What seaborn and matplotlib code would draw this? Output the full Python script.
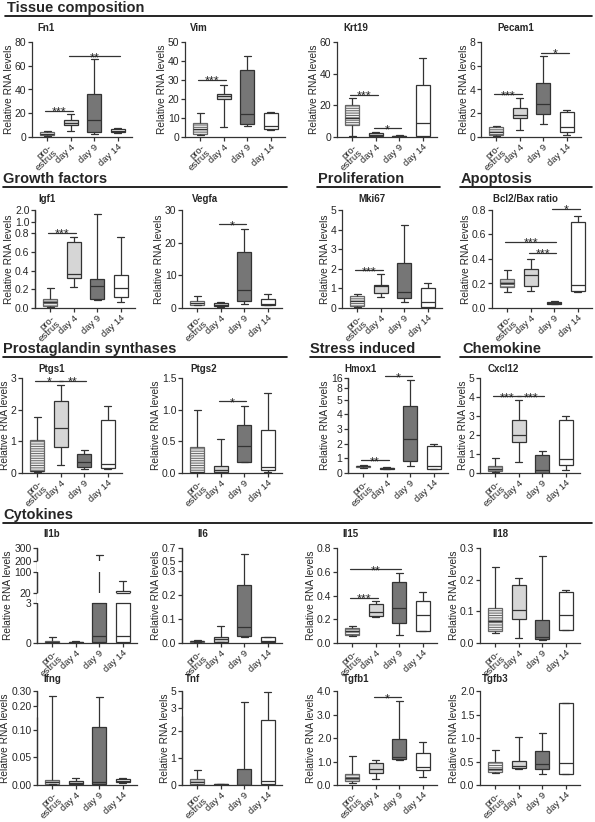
import numpy as np
import pandas as pd
import seaborn as sns
import matplotlib
matplotlib.use('Agg')
import matplotlib.pyplot as plt
from matplotlib.lines import Line2D

# === Data: five-number summaries [min, q1, median, q3, max] ===
GROUPS = ['pro-\nestrus', 'day 4', 'day 9', 'day 14']

FN1 = [[0.5, 1.5, 2.5, 4.0, 5.0], [5.0, 10.0, 12.0, 14.5, 19.0], [2.5, 4.0, 14.0, 36.0, 65.5], [3.0, 4.0, 5.0, 7.0, 7.5]]
VIM = [[1.0, 1.5, 4.0, 7.5, 12.5], [5.0, 20.2, 21.5, 22.8, 27.5], [6.0, 7.0, 12.0, 35.0, 42.5], [3.5, 4.0, 6.0, 12.5, 13.0]]
KRT19 = [[0.5, 7.5, 12.0, 20.5, 24.5], [0.2, 0.5, 1.0, 2.8, 3.2], [0.1, 0.2, 0.4, 0.6, 1.0], [0.3, 0.5, 9.0, 33.0, 50.0]]
PECAM1 = [[0.1, 0.2, 0.45, 0.8, 0.95], [0.55, 1.6, 1.82, 2.47, 3.3], [1.12, 1.97, 2.75, 4.58, 6.8], [0.2, 0.45, 0.8, 2.1, 2.3]]
IGF1 = [[0.01, 0.02, 0.06, 0.1, 0.21], [0.22, 0.32, 0.36, 0.7, 0.76], [0.09, 0.1, 0.235, 0.31, 1.65], [0.065, 0.115, 0.21, 0.35, 0.755]]
VEGFA = [[0.8, 1.0, 1.5, 2.1, 3.6], [0.3, 0.6, 1.0, 1.5, 1.8], [1.3, 2.0, 5.6, 17.0, 24.3], [0.8, 1.0, 1.3, 2.8, 4.3]]
MKI67 = [[0.05, 0.1, 0.35, 0.6, 0.7], [0.54, 0.78, 1.13, 1.18, 1.74], [0.31, 0.52, 0.8, 2.3, 4.25], [0.02, 0.05, 0.31, 1.04, 1.25]]
BCL2BAX = [[0.133, 0.175, 0.2, 0.24, 0.31], [0.14, 0.18, 0.27, 0.32, 0.4], [0.03, 0.035, 0.04, 0.05, 0.055], [0.13, 0.14, 0.19, 0.7, 0.755]]
PTGS1 = [[0.04, 0.05, 0.07, 1.05, 1.76], [0.24, 0.83, 1.43, 2.28, 2.78], [0.13, 0.18, 0.35, 0.59, 0.72], [0.12, 0.17, 0.29, 1.66, 2.1]]
PTGS2 = [[0.0, 0.005, 0.01, 0.41, 0.99], [0.0, 0.02, 0.05, 0.105, 0.53], [0.17, 0.17, 0.42, 0.76, 1.06], [0.01, 0.04, 0.09, 0.68, 1.27]]
HMOX1 = [[0.33, 0.4, 0.45, 0.5, 0.55], [0.27, 0.3, 0.33, 0.36, 0.38], [0.5, 0.84, 2.32, 4.55, 14.0], [0.25, 0.27, 0.5, 1.86, 1.98]]
CXCL12 = [[0.05, 0.1, 0.2, 0.35, 0.79], [0.6, 1.61, 2.0, 2.77, 3.82], [0.0, 0.02, 0.14, 0.95, 1.16], [0.18, 0.42, 0.74, 2.8, 3.02]]
IL1B = [[0.01, 0.03, 0.08, 0.12, 0.42], [0.02, 0.03, 0.06, 0.1, 0.12], [0.03, 0.05, 0.55, 12.0, 245.0], [0.02, 0.05, 0.5, 28.0, 65.0]]
IL6 = [[0.003, 0.005, 0.008, 0.01, 0.012], [0.003, 0.005, 0.018, 0.027, 0.071], [0.025, 0.031, 0.068, 0.244, 0.615], [0.003, 0.005, 0.01, 0.027, 0.027]]
IL15 = [[0.055, 0.066, 0.097, 0.13, 0.14], [0.22, 0.23, 0.26, 0.33, 0.35], [0.066, 0.17, 0.295, 0.51, 0.593], [0.1, 0.1, 0.24, 0.35, 0.43]]
IL18 = [[0.032, 0.038, 0.07, 0.11, 0.24], [0.017, 0.077, 0.105, 0.182, 0.205], [0.008, 0.012, 0.02, 0.072, 0.274], [0.04, 0.04, 0.088, 0.161, 0.167]]
IFNG = [[0.001, 0.002, 0.005, 0.009, 0.27], [0.001, 0.002, 0.004, 0.007, 0.013], [0.0, 0.001, 0.006, 0.104, 0.26], [0.003, 0.005, 0.008, 0.011, 0.012]]
TNF = [[0.01, 0.03, 0.12, 0.215, 0.55], [0.0, 0.01, 0.02, 0.04, 0.05], [0.0, 0.005, 0.01, 0.575, 3.7], [0.0, 0.02, 0.155, 2.4, 4.85]]
TGFB1 = [[0.1, 0.15, 0.29, 0.46, 1.22], [0.25, 0.5, 0.68, 0.95, 1.07], [1.05, 1.09, 1.19, 1.97, 3.58], [0.36, 0.62, 0.78, 1.37, 1.81]]
TGFB3 = [[0.26, 0.28, 0.35, 0.48, 0.75], [0.35, 0.36, 0.4, 0.52, 1.02], [0.235, 0.33, 0.44, 0.73, 1.1], [0.24, 0.24, 0.46, 1.74, 1.75]]

# significance bars: (group a, group b, height, stars)
FN1_SIG = [(0, 1, 22, '***'), (1, 3, 68, '**')]
VIM_SIG = [(0, 1, 30, '***')]
KRT19_SIG = [(0, 1, 26.7, '***'), (1, 2, 5.5, '*')]
PECAM1_SIG = [(0, 1, 3.6, '***'), (2, 3, 7.1, '*')]
IGF1_SIG = [(0, 1, 0.8, '***')]
VEGFA_SIG = [(1, 2, 25.6, '*')]
MKI67_SIG = [(0, 1, 1.93, '***')]
BCL2BAX_SIG = [(0, 2, 0.54, '***'), (1, 2, 0.45, '***'), (2, 3, 0.81, '*')]
PTGS1_SIG = [(0, 1, 2.92, '*'), (1, 2, 2.92, '**')]
PTGS2_SIG = [(1, 2, 1.13, '*')]
HMOX1_SIG = [(0, 1, 0.86, '**'), (1, 2, 17.5, '*')]
CXCL12_SIG = [(0, 1, 4.04, '***'), (1, 2, 4.04, '***')]
IL15_SIG = [(0, 1, 0.38, '***'), (0, 2, 0.62, '**')]
TGFB1_SIG = [(1, 2, 3.74, '*')]

# broken axes: (low, high, share of axis height)
IGF1_SEGS = [(0, 0.8, 0.765), (1.0, 2.0, 0.122)]
HMOX1_SEGS = [(0, 5, 0.772), (8, 16, 0.105)]
IL1B_SEGS = [(0, 3, 0.421), (20, 100, 0.221), (200, 300, 0.140)]
IL6_SEGS = [(0, 0.3, 0.754), (0.5, 0.7, 0.140)]
IFNG_SEGS = [(0, 0.122, 0.72), (0.2, 0.3, 0.16)]
TNF_SEGS = [(0, 2.55, 0.733), (3, 5, 0.186)]

# === Style / layout ===
FILLS = ['#eeeeee', '#d6d6d6', '#767676', '#ffffff']
LINE = '#333333'
W, H = 595, 822
ROW_TOP = [42, 210, 378, 548, 691]
ROW_BOT = [137, 308, 473, 643, 785]
TITLE_BASE = [31, 202, 372, 537, 682]
LEFT = [[32, 185, 337, 481], [35, 182, 342, 492], [22, 182, 348, 480], [37, 182, 337, 480], [37, 182, 337, 480]]
TITLE_X = [[37, 190, 343, 497], [38, 192, 358, 493], [38, 190, 344, 488], [43, 197, 342, 492], [43, 185, 343, 482]]
AX_W = 100
BOX_W = 0.6

sns.set_style('ticks')
plt.rcParams['font.family'] = ['Liberation Sans', 'DejaVu Sans']
plt.rcParams['hatch.linewidth'] = 0.7

fig = plt.figure(figsize=(W / 100, H / 100), dpi=100)


def piecewise(segs):
    d, v = [], []
    pos = 0.0
    gap = (1 - sum(s[2] for s in segs)) / (len(segs) - 1)
    for i, (lo, hi, h) in enumerate(segs):
        if i > 0:
            pos += gap
        d += [lo, hi]
        v += [pos, pos + h]
        pos += h
    s0 = (d[1] - d[0]) / (v[1] - v[0])
    s1 = (d[-1] - d[-2]) / (v[-1] - v[-2])
    d = [d[0] - 10 * s0] + d + [d[-1] + 10 * s1]
    v = [v[0] - 10] + v + [v[-1] + 10]
    d, v = np.array(d), np.array(v)
    return (lambda y: np.interp(y, d, v)), (lambda t: np.interp(t, v, d))


def panel(r, c, title, vals, ticks, fmt='{:g}', sigs=(), segs=None, blank=False):
    left, top, bot = LEFT[r][c], ROW_TOP[r], ROW_BOT[r]
    ax = fig.add_axes([left / W, 1 - bot / H, AX_W / W, (bot - top) / H])
    df = pd.DataFrame({'group': np.repeat(GROUPS, 5), 'value': np.concatenate(vals)})
    sns.boxplot(data=df, x='group', y='value', hue='group', order=GROUPS, hue_order=GROUPS,
                palette=FILLS, saturation=1, whis=(0, 100), width=BOX_W, linewidth=0.9,
                linecolor=LINE, showfliers=False, legend=False, ax=ax)
    # hatched pre-estrus box
    box = ax.patches[0]
    box.set_edgecolor('#666666')
    box.set_hatch('-------')

    if segs is not None:
        ax.set_yscale('function', functions=piecewise(segs))
        ax.set_ylim(segs[0][0], segs[-1][1])
        ax.spines['left'].set_visible(False)
        for lo, hi, _ in segs:
            ax.plot([0, 0], [lo, hi], transform=ax.get_yaxis_transform(), color=LINE,
                    lw=0.9, clip_on=False, solid_capstyle='butt', zorder=5)
        if blank:
            for (_, hi, _), (lo, _, _) in zip(segs[:-1], segs[1:]):
                ax.axhspan(hi, lo, facecolor='white', edgecolor='none', zorder=4)
                # close boxes that are cut by the break
                for i, v in enumerate(vals):
                    if v[1] < hi < v[3]:
                        ax.hlines(hi, i - BOX_W / 2, i + BOX_W / 2, color=LINE, lw=0.9, zorder=5)
                    if v[1] < lo < v[3]:
                        ax.hlines(lo, i - BOX_W / 2, i + BOX_W / 2, color=LINE, lw=0.9, zorder=5)
    else:
        ax.set_ylim(0, ticks[-1])

    ax.set_yticks(ticks)
    ax.set_yticklabels([fmt.format(t) for t in ticks])
    ax.set_xlim(-0.65, 3.6)
    ax.set_xticks(range(4))
    ax.set_xticklabels(GROUPS, rotation=43, ha='right', rotation_mode='anchor', fontsize=6.8,
                       linespacing=0.8)
    ax.set_xlabel('')
    ax.set_ylabel('Relative RNA levels', fontsize=7.3, labelpad=0.5)
    ax.tick_params(axis='both', length=3, width=0.9, color=LINE, pad=1)
    ax.tick_params(axis='y', labelsize=7.5)
    for s in ['left', 'bottom']:
        ax.spines[s].set_linewidth(0.9)
        ax.spines[s].set_color(LINE)
    sns.despine(ax=ax)

    for a, b, y, txt in sigs:
        ax.plot([a - 0.08, b + 0.08], [y, y], color=LINE, lw=0.9, clip_on=False)
        ax.annotate(txt, xy=((a + b) / 2, y), xytext=(0, -3.5), textcoords='offset points',
                    ha='center', va='baseline', fontsize=9, annotation_clip=False)

    fig.text(TITLE_X[r][c] / W, 1 - TITLE_BASE[r] / H, title, fontsize=7, fontweight='bold',
             va='baseline', ha='left')
    return ax


panel(0, 0, 'Fn1', FN1, [0, 20, 40, 60, 80], sigs=FN1_SIG)
panel(0, 1, 'Vim', VIM, [0, 10, 20, 30, 40, 50], sigs=VIM_SIG)
panel(0, 2, 'Krt19', KRT19, [0, 20, 40, 60], sigs=KRT19_SIG)
panel(0, 3, 'Pecam1', PECAM1, [0, 2, 4, 6, 8], sigs=PECAM1_SIG)

panel(1, 0, 'Igf1', IGF1, [0, 0.2, 0.4, 0.6, 0.8, 1.0, 2.0], fmt='{:.1f}', sigs=IGF1_SIG, segs=IGF1_SEGS)
panel(1, 1, 'Vegfa', VEGFA, [0, 10, 20, 30], sigs=VEGFA_SIG)
panel(1, 2, 'Mki67', MKI67, [0, 1, 2, 3, 4, 5], sigs=MKI67_SIG)
panel(1, 3, 'Bcl2/Bax ratio', BCL2BAX, [0, 0.2, 0.4, 0.6, 0.8], fmt='{:.1f}', sigs=BCL2BAX_SIG)

panel(2, 0, 'Ptgs1', PTGS1, [0, 1, 2, 3], sigs=PTGS1_SIG)
panel(2, 1, 'Ptgs2', PTGS2, [0, 0.5, 1.0, 1.5], fmt='{:.1f}', sigs=PTGS2_SIG)
panel(2, 2, 'Hmox1', HMOX1, [0, 1, 2, 3, 4, 5, 8, 16], sigs=HMOX1_SIG, segs=HMOX1_SEGS)
panel(2, 3, 'Cxcl12', CXCL12, [0, 1, 2, 3, 4, 5], sigs=CXCL12_SIG)

panel(3, 0, 'Il1b', IL1B, [0, 3, 20, 100, 200, 300], segs=IL1B_SEGS, blank=True)
panel(3, 1, 'Il6', IL6, [0, 0.1, 0.2, 0.3, 0.5, 0.7], fmt='{:.1f}', segs=IL6_SEGS)
panel(3, 2, 'Il15', IL15, [0, 0.2, 0.4, 0.6, 0.8], fmt='{:.1f}', sigs=IL15_SIG)
panel(3, 3, 'Il18', IL18, [0, 0.1, 0.2, 0.3], fmt='{:.1f}')

panel(4, 0, 'Ifng', IFNG, [0, 0.05, 0.10, 0.20, 0.30], fmt='{:.2f}', segs=IFNG_SEGS)
panel(4, 1, 'Tnf', TNF, [0, 1, 2, 3, 5], segs=TNF_SEGS)
panel(4, 2, 'Tgfb1', TGFB1, [0, 1, 2, 3, 4], fmt='{:.1f}', sigs=TGFB1_SIG)
panel(4, 3, 'Tgfb3', TGFB3, [0, 0.5, 1.0, 1.5, 2.0], fmt='{:.1f}')

# section headers: text, text x, line x0, line x1, line y (pixels)
HEADERS = [('Tissue composition', 7, 5, 592, 16),
           ('Growth factors', 3, 3, 287, 187),
           ('Proliferation', 318, 317, 440, 187),
           ('Apoptosis', 461, 460, 592, 187),
           ('Prostaglandin synthases', 3, 3, 287, 357),
           ('Stress induced', 310, 310, 440, 357),
           ('Chemokine', 462, 460, 592, 357),
           ('Cytokines', 3, 3, 592, 523)]
for txt, tx, x0, x1, ly in HEADERS:
    fig.text(tx / W, 1 - (ly - 4) / H, txt, fontsize=10.5, fontweight='bold', va='baseline', ha='left')
    fig.add_artist(Line2D([x0 / W, x1 / W], [1 - ly / H, 1 - ly / H], transform=fig.transFigure,
                          color='black', lw=1.2))

fig.savefig('out.png', dpi=100)
